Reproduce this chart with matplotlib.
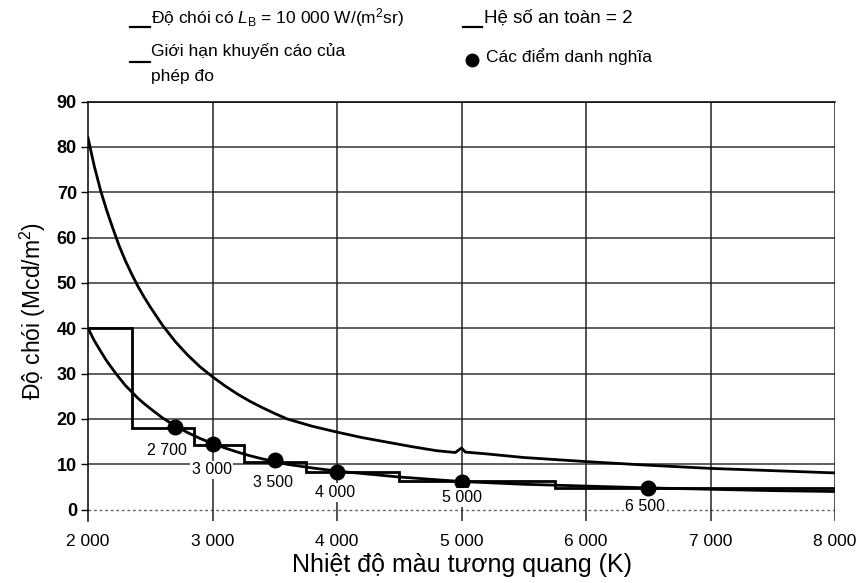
import matplotlib
matplotlib.use("Agg")
import matplotlib.pyplot as plt
from matplotlib.lines import Line2D

plt.rcParams['font.family'] = ['Liberation Sans', 'DejaVu Sans']
plt.rcParams['mathtext.fontset'] = 'custom'
plt.rcParams['mathtext.rm'] = 'Liberation Sans'
plt.rcParams['mathtext.it'] = 'Liberation Sans:italic'

# do choi voi L_B = 10 000 W/(m2 sr)
t_upper = [2000, 2050, 2100, 2150, 2200, 2250, 2300, 2350, 2400, 2450, 2500,
           2600, 2700, 2800, 2900, 3000, 3100, 3200, 3300, 3400, 3500, 3600,
           3800, 4000, 4200, 4400, 4600, 4800, 4950, 5000,
           5030, 5200, 5500, 6000, 6500, 7000, 7500, 8000]
l_upper = [82, 75.8, 70.5, 66, 62, 58.2, 54.9, 52, 49.3, 46.9, 44.7,
           40.6, 37.1, 34.1, 31.5, 29.3, 27.3, 25.5, 23.9, 22.5, 21.2, 20.0,
           18.4, 17.1, 15.9, 14.9, 13.9, 13.0, 12.6, 13.6,
           12.7, 12.3, 11.5, 10.6, 9.8, 9.1, 8.6, 8.1]

# he so an toan = 2
t_lower = [2000, 2050, 2100, 2150, 2200, 2250, 2300, 2350, 2400, 2450, 2500,
           2600, 2700, 2800, 2900, 3000, 3100, 3200, 3300, 3400, 3500, 3600,
           3800, 4000, 4500, 5000, 5500, 6000, 6500, 7000, 7500, 8000]
l_lower = [40, 37.3, 35, 32.8, 30.9, 29.1, 27.4, 26, 24.6, 23.4, 22.3,
           20.2, 18.5, 17.0, 15.7, 14.6, 13.6, 12.7, 11.9, 11.2, 10.6, 10.0,
           9.2, 8.5, 7.2, 6.2, 5.6, 5.2, 4.8, 4.5, 4.2, 4.0]

# gioi han khuyen cao cua phep do (bac thang)
step_edges = [2000, 2350, 2850, 3250, 3750, 4500, 5750, 8000]
step_vals = [40, 18.1, 14.3, 10.6, 8.3, 6.3, 4.8]

# cac diem danh nghia
t_nom = [2700, 3000, 3500, 4000, 5000, 6500]
l_nom = [18.3, 14.5, 10.9, 8.4, 6.2, 4.8]
nom_labels = ['2 700', '3 000', '3 500', '4 000', '5 000', '6 500']
nom_offsets = [(-8, -24), (-1, -26), (-2, -22), (-2, -21), (0, -16), (-3, -19)]

x_ticks = [2000, 3000, 4000, 5000, 6000, 7000, 8000]
x_ticklabels = ['2 000', '3 000', '4 000', '5 000', '6 000', '7 000', '8 000']
y_ticks = list(range(0, 91, 10))

W, H = 859, 583
fig = plt.figure(figsize=(W / 100, H / 100), dpi=100)
ax = fig.add_axes([88 / W, 1 - 521 / H, (835 - 88) / W, (521 - 101.5) / H])

for y in y_ticks[1:]:
    ax.axhline(y, color='#333333', lw=1.1, zorder=1)
ax.axhline(0, color='#666666', lw=1, ls=(0, (2, 2)), zorder=1)
for x in x_ticks[1:]:
    ax.axvline(x, color='#222222', lw=1.1, zorder=1)

ax.plot(t_upper, l_upper, color='black', lw=2.0, zorder=3)
ax.plot(t_lower, l_lower, color='black', lw=2.0, zorder=3)
ax.stairs(step_vals, step_edges, baseline=None, color='black', lw=2.0, zorder=3)
ax.scatter(t_nom, l_nom, s=110, color='black', zorder=4)

for t, l, lab, (dx, dy) in zip(t_nom, l_nom, nom_labels, nom_offsets):
    ax.annotate(lab, (t, l), xytext=(dx * 0.72, dy * 0.72), textcoords='offset points',
                ha='center', va='center', fontsize=11.5,
                bbox=dict(boxstyle='square,pad=0.1', fc='white', ec='none'), zorder=5)

ax.set_xlim(2000, 8000)
ax.set_ylim(-2.5, 90)
ax.set_xticks(x_ticks)
ax.set_xticklabels(x_ticklabels)
ax.set_yticks(y_ticks)
ax.tick_params(axis='x', length=0, labelsize=12.5, pad=9)
ax.tick_params(axis='y', length=5, width=1, labelsize=13, pad=3)
for lab in ax.get_yticklabels():
    lab.set_fontweight('bold')
ax.spines['bottom'].set_visible(False)
ax.spines['right'].set_visible(False)
ax.spines['top'].set_linewidth(1.1)
ax.spines['left'].set_linewidth(1.1)

ax.set_xlabel('Nhiệt độ màu tương quang (K)', fontsize=18, labelpad=3)
ax.set_ylabel('Độ chói (Mcd/m$^2$)', fontsize=16.5, labelpad=6)


def px(x, y):
    return x / W, 1 - y / H


def handle(x0, x1, y):
    (a, b), (c, _) = px(x0, y), px(x1, y)
    fig.add_artist(Line2D([a, c], [b, b], color='black', lw=1.6))


handle(130, 150, 27)
fig.text(*px(151, 18), 'Độ chói có $L_{\\mathrm{B}}$ = 10 000 W/(m$^2$sr)',
         fontsize=12.5, va='center')
handle(463, 482, 27)
fig.text(*px(484, 18), 'Hệ số an toàn = 2', fontsize=13.5, va='center')
handle(130, 150, 62)
fig.text(*px(151, 51), 'Giới hạn khuyến cáo của', fontsize=12.5, va='center')
fig.text(*px(151, 76), 'phép đo', fontsize=12.5, va='center')
fig.add_artist(Line2D([px(472, 60)[0]], [px(472, 60)[1]], marker='o',
                      color='black', ms=9, ls='none'))
fig.text(*px(486, 57), 'Các điểm danh nghĩa', fontsize=12.5, va='center')

fig.savefig('out.png', dpi=100)
